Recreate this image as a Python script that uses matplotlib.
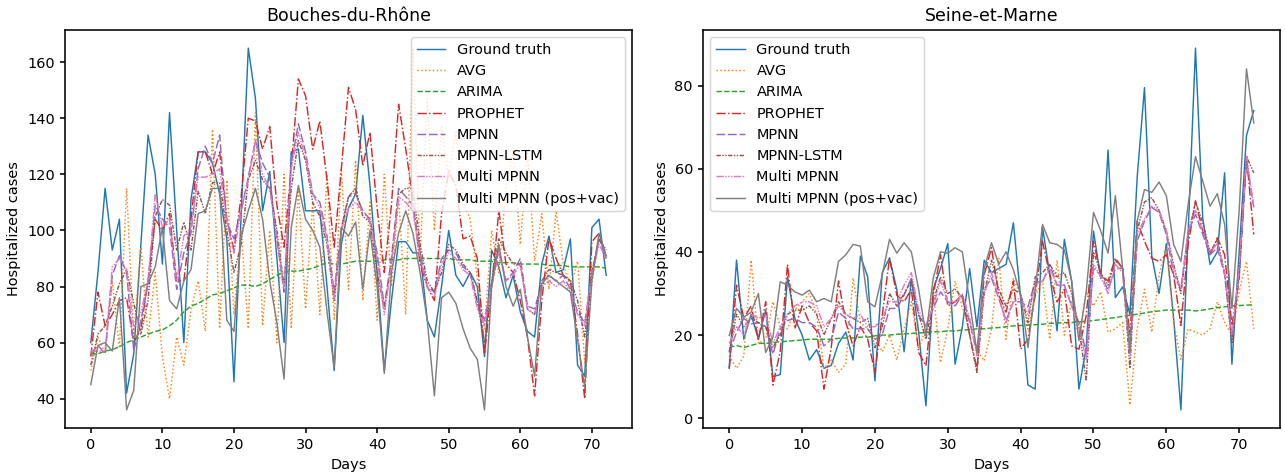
import numpy as np
import matplotlib
matplotlib.use("Agg")
from matplotlib import pyplot as plt

days = np.arange(73)

# Bouches-du-Rhone
bdr_truth = [60, 85, 115, 93, 104, 42, 56, 95, 134, 120,
             88, 142, 100, 60, 111, 128, 128, 124, 113, 97,
             46, 105, 165, 147, 107, 121, 90, 60, 128, 129,
             107, 107, 107, 80, 50, 95, 108, 113, 141, 116,
             85, 50, 75, 96, 96, 92, 92, 68, 62, 80,
             100, 84, 80, 85, 80, 55, 93, 87, 76, 84,
             71, 64, 62, 88, 98, 85, 86, 97, 52, 48,
             101, 104, 84]
bdr_avg = [50, 62, 56, 82, 58, 115, 62, 94, 62, 85,
           55, 40, 62, 52, 72, 82, 64, 136, 65, 118,
           70, 100, 65, 142, 66, 100, 60, 120, 65, 115,
           72, 110, 70, 120, 68, 122, 79, 125, 75, 110,
           68, 120, 80, 112, 70, 165, 90, 147, 100, 137,
           119, 135, 110, 104, 83, 65, 100, 85, 115, 129,
           95, 128, 89, 106, 79, 107, 88, 80, 89, 53,
           81, 98, 89]
bdr_arima = [56, 56, 57, 57.5, 58.5, 60, 61, 62, 63, 64,
             64.5, 66, 68, 71, 73, 74, 75.5, 77, 77.5, 78.5,
             79.5, 80.5, 80.5, 80, 81, 82.5, 84, 85, 85.5, 85.5,
             86, 86.5, 87.5, 88.5, 88, 88, 88.5, 89, 89, 89,
             89, 89.5, 89.5, 89.5, 90, 90, 90, 90, 90, 90,
             90, 89.5, 89.5, 89.5, 89, 89, 89, 88.5, 88.5, 88.5,
             88, 88, 88, 88, 87.5, 87.5, 87.5, 87, 87, 87,
             87, 87, 86.5]
bdr_prophet = [55, 78, 66, 70, 75, 76, 60, 65, 82, 104,
               100, 106, 82, 82, 104, 128, 128, 120, 128, 104,
               93, 112, 140, 139, 129, 137, 109, 94, 122, 154,
               148, 129, 139, 118, 94, 122, 151, 143, 123, 135,
               108, 85, 109, 145, 129, 111, 88, 80, 75, 106,
               121, 116, 97, 98, 90, 56, 80, 107, 88, 85,
               75, 62, 41, 75, 97, 90, 84, 82, 63, 40,
               96, 99, 90]
bdr_mpnn = [56, 59, 56, 84, 91, 85, 57, 68, 81, 109,
            104, 101, 79, 92, 99, 122, 130, 124, 134, 103,
            97, 107, 119, 132, 124, 119, 97, 78, 124, 138,
            128, 113, 110, 98, 78, 101, 112, 113, 107, 104,
            92, 73, 90, 115, 112, 109, 92, 80, 78, 90,
            93, 92, 87, 85, 74, 68, 81, 93, 82, 85,
            90, 73, 72, 81, 84, 82, 84, 79, 71, 67,
            85, 97, 91]
bdr_lstm = [52, 63, 66, 73, 81, 86, 74, 63, 75, 105,
            111, 109, 93, 103, 93, 114, 106, 117, 117, 100,
            85, 95, 118, 125, 118, 115, 100, 80, 115, 132,
            125, 110, 105, 95, 75, 100, 112, 115, 105, 103,
            85, 72, 88, 113, 115, 115, 95, 82, 78, 85,
            95, 93, 88, 85, 75, 60, 82, 97, 92, 88,
            88, 72, 70, 82, 86, 85, 84, 82, 75, 62,
            85, 97, 93]
bdr_multi = [57, 57, 57, 87, 90, 86, 65, 71, 82, 113,
             101, 104, 82, 98, 101, 119, 119, 120, 122, 103,
             92, 107, 118, 132, 120, 115, 97, 80, 122, 135,
             126, 113, 108, 97, 76, 100, 108, 110, 107, 103,
             90, 70, 88, 112, 110, 107, 90, 80, 76, 88,
             92, 90, 86, 84, 72, 66, 80, 92, 82, 84,
             88, 72, 70, 80, 82, 80, 82, 78, 70, 66,
             84, 95, 90]
bdr_multi_vac = [45, 59, 60, 57, 76, 36, 43, 80, 81, 87,
                 101, 75, 72, 82, 86, 106, 107, 115, 115, 68,
                 64, 98, 107, 115, 104, 82, 67, 47, 101, 116,
                 104, 100, 94, 71, 51, 101, 98, 103, 79, 100,
                 80, 49, 85, 99, 107, 99, 85, 68, 41, 76,
                 78, 74, 65, 58, 54, 36, 80, 95, 80, 73,
                 79, 62, 48, 81, 84, 82, 80, 78, 61, 44,
                 82, 99, 91]

# Seine-et-Marne
sem_truth = [12, 38, 19, 25, 19, 26, 10, 10.5, 34, 24,
             20, 14, 16.5, 12, 12.7, 18, 20.7, 14, 39, 34,
             9, 35, 38.5, 31, 16, 33.6, 20.7, 3, 31, 36,
             42, 13, 22, 36, 22, 38, 35, 36, 37, 47,
             29, 8, 7, 46, 34.5, 21, 43, 33, 7, 17,
             45, 33.6, 64.5, 29, 31.6, 25, 58, 79.5, 39, 30,
             42, 24, 2, 45, 89, 48, 37, 40, 59, 13,
             40, 68, 74]
sem_avg = [15, 12, 15, 38, 18, 19, 28, 22, 21.5, 26,
           28, 30, 25, 12, 14, 11, 13, 33.7, 23, 21.5,
           19.5, 16, 20, 14, 21.5, 28, 16.6, 21.5, 30.4, 13.4,
           21.5, 33, 26.4, 24, 16.6, 13.8, 21.5, 38.5, 19, 33.7,
           29.6, 21.5, 29.6, 33, 19, 38, 20, 28, 19, 30.4,
           27, 30.4, 20.7, 21.5, 23, 3.2, 21.5, 31, 20.7, 34.5,
           41, 23, 14.2, 21.5, 20.7, 20, 21.5, 28, 23, 20,
           30.4, 37.7, 21.5]
sem_arima = [17, 17.5, 17, 17.5, 18, 18, 18.2, 18.4, 18.5, 18.7,
             18.8, 19, 19, 19, 19, 19.2, 19.3, 19.3, 19.5, 19.5,
             19.8, 20, 20, 20.2, 20.3, 20.4, 20.5, 20.6, 20.8, 20.8,
             21, 21, 21.2, 21.3, 21.5, 21.5, 21.7, 21.8, 22, 22.2,
             22.3, 22.4, 22.5, 22.6, 22.8, 22.9, 23, 23, 23.2, 23.3,
             23.5, 23.7, 24, 24.2, 24.5, 24.8, 25, 25.3, 25.6, 25.8,
             26, 26, 26, 26, 25.8, 26, 26.3, 26.6, 26.8, 27,
             27.1, 27.2, 27.3]
sem_prophet = [12, 32, 24, 27, 19, 28, 8, 16, 37, 21.5,
               27, 23, 21, 7, 17, 33, 23, 17.4, 22, 19,
               11, 24.7, 38.5, 29.6, 28, 31, 15.8, 12.6, 29.6, 39.3,
               27, 28, 29.6, 20, 11.8, 34.5, 41, 29.6, 25.5, 33,
               16.6, 19, 29.6, 42.6, 34.5, 28, 31, 17.4, 16.6, 24.7,
               42.6, 34.5, 33, 38.5, 36, 20, 47.4, 42.6, 38.5, 37.7,
               39.3, 34.5, 22.3, 41.8, 52.3, 45, 39.3, 43.4, 39.3, 22.3,
               33.7, 62.9, 44.2]
sem_mpnn = [15.8, 20.7, 24, 22.7, 23, 22, 15.4, 21.5, 23.5, 24,
            23, 23, 21.9, 17.4, 19, 25.5, 24, 21.5, 21.5, 21.5,
            19, 20, 26.4, 26.4, 29.6, 33.7, 24.7, 22.3, 26.4, 30.4,
            28, 27, 29.6, 23, 15.8, 31, 33.7, 28.8, 23.5, 28,
            28, 26.8, 32.8, 32.8, 37, 32, 32, 27, 23, 15.8,
            36, 34.5, 30.8, 36, 36, 16.6, 42.6, 47.4, 50.7, 49.5,
            44.2, 34.5, 31, 45, 49, 44.2, 39.3, 41, 34.5, 19,
            34.5, 62, 50.7]
sem_lstm = [16, 25, 22, 24, 23, 22, 17, 20, 25, 26,
            26, 27, 25, 20, 24, 28, 25, 24, 23, 24,
            17, 22, 30, 27, 30, 33, 25, 19, 28, 34,
            30, 31, 29, 20, 11, 30, 38, 31, 27, 31,
            30, 23, 34, 35, 37, 34, 35, 30, 22, 9,
            40, 35, 32, 38, 36, 12, 45, 52, 53, 50,
            45, 37, 30, 44, 52, 47, 40, 43, 35, 18,
            35, 63, 59]
sem_multi = [18, 22, 20, 25, 24, 25, 18, 22, 25, 27,
             28, 28, 27, 22, 24, 27, 25, 24, 25, 22,
             22, 24, 28, 28, 32, 35, 26, 22, 27, 33,
             28, 28, 30, 24, 15, 30, 35, 29, 23, 28,
             29, 25, 32, 33, 36, 32, 32, 27, 22, 14,
             37, 34, 30, 37, 35, 15, 44, 48, 51, 50,
             45, 36, 31, 45, 50, 45, 40, 42, 35, 20,
             36, 63, 51]
sem_multi_vac = [19.9, 26.4, 24.3, 25.5, 30, 15.8, 19.5, 32.8, 32, 30.4,
                 29.6, 30.8, 28, 28.8, 28, 37.7, 39.3, 41.8, 41.4, 28,
                 26.8, 34.5, 43, 39.7, 42.2, 40, 31, 19.9, 33.7, 40,
                 39.7, 41, 40, 28, 15.8, 36, 42.2, 37, 40, 35.7,
                 29.6, 17, 31, 46.6, 42.2, 41.8, 40.5, 33, 18.7, 30.4,
                 49.5, 45, 39.7, 53.5, 36, 15.8, 47.4, 55, 54.3, 56.8,
                 53.5, 41.8, 37.7, 51.5, 62.9, 57, 51, 54, 46.6, 26.4,
                 50, 84, 71]

labels = ["Ground truth", "AVG", "ARIMA", "PROPHET", "MPNN", "MPNN-LSTM",
          "Multi MPNN", "Multi MPNN (pos+vac)"]
colors = ["C0", "C1", "C2", "C3", "C4", "C5", "C6", "C7"]
styles = ["-", ":", "--", "-.", (0, (6, 2)), (0, (3, 1, 1, 1, 1, 1)),
          (0, (5, 1, 1, 1, 1, 1, 1, 1)), "-"]

panels = [
    ("Bouches-du-Rhône", [bdr_truth, bdr_avg, bdr_arima, bdr_prophet,
                          bdr_mpnn, bdr_lstm, bdr_multi, bdr_multi_vac], "upper right"),
    ("Seine-et-Marne", [sem_truth, sem_avg, sem_arima, sem_prophet,
                        sem_mpnn, sem_lstm, sem_multi, sem_multi_vac], "upper left"),
]

dpi = 104
fig = plt.figure(figsize=(1285 / dpi, 472 / dpi), dpi=dpi)
ax1 = fig.add_axes([0.0506, 0.0932, 0.4412, 0.8432])
ax2 = fig.add_axes([0.5471, 0.0932, 0.4490, 0.8432])

for ax, (title, series, loc) in zip([ax1, ax2], panels):
    for vals, lab, col, ls in zip(series, labels, colors, styles):
        ax.plot(days, vals, color=col, linestyle=ls, linewidth=1.0, label=lab)
    ax.set_title(title)
    ax.set_xlabel("Days")
    ax.set_ylabel("Hospitalized cases")
    for sp in ax.spines.values():
        sp.set_linewidth(1.1)
    ax.tick_params(width=1.1)
    ax.legend(loc=loc)

fig.savefig("out.png", dpi=dpi)
